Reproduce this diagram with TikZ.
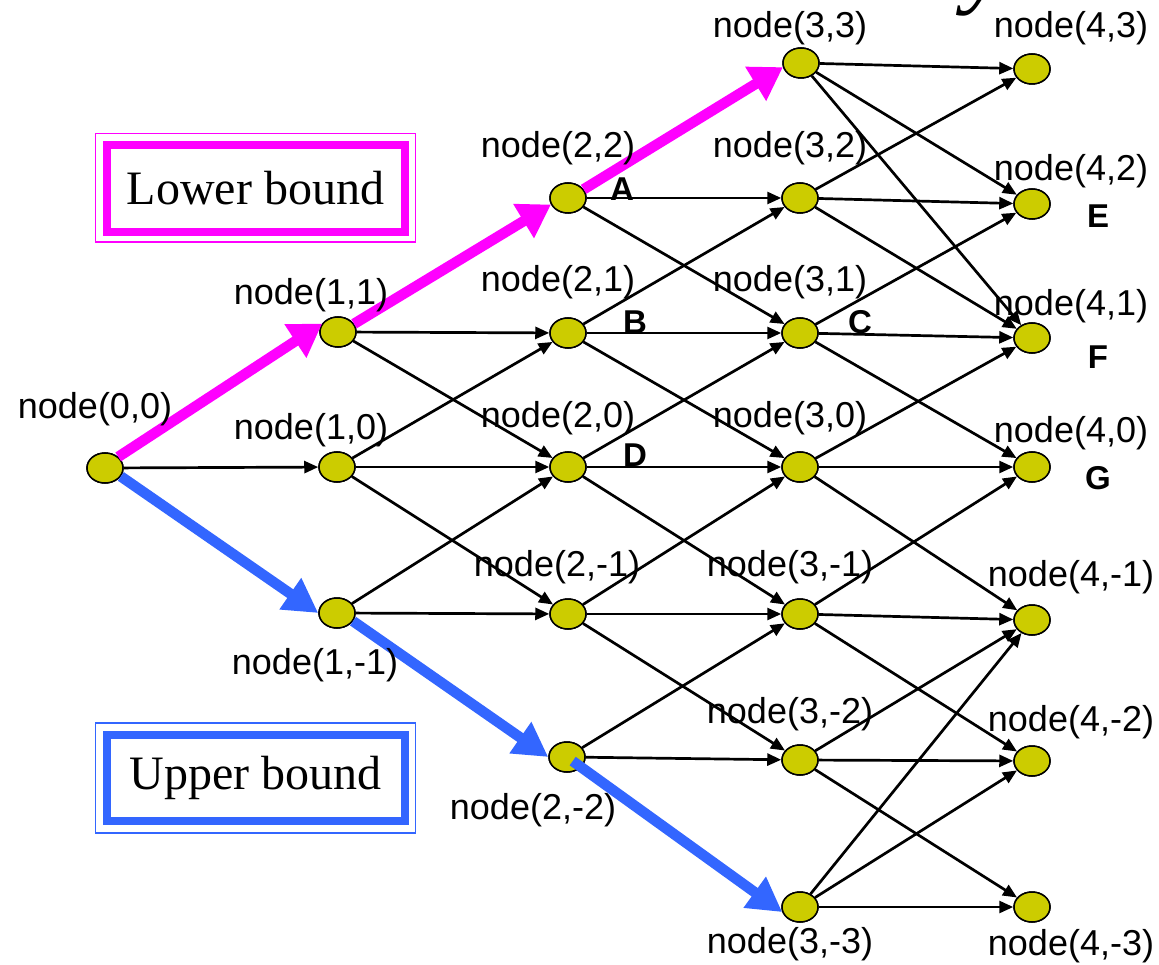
\documentclass[tikz,border=0pt]{standalone}
\usepackage{fontspec}
\setmainfont{Liberation Serif}
\newfontfamily\arialfont{Liberation Sans}
\usetikzlibrary{arrows.meta,shapes.geometric,calc}
\definecolor{nodeyellow}{RGB}{204,204,0}
\definecolor{pathmag}{RGB}{255,0,255}
\definecolor{pathblue}{RGB}{51,102,255}

\begin{document}
\begin{tikzpicture}[x=1pt,y=-1pt,
  state/.style={ellipse, draw=black, line width=1.5pt, fill=nodeyellow,
    minimum width=36pt, minimum height=30pt, inner sep=0pt},
  statefill/.style={draw=black, line width=1.5pt, fill=nodeyellow},
  edge/.style={line width=2.7pt, -{Triangle[length=14pt,width=12pt]}},
  tag/.style={font=\arialfont\fontsize{36}{40}\selectfont, inner sep=0pt},
  letter/.style={font=\arialfont\bfseries\fontsize{33}{36}\selectfont, inner sep=0pt},
  magpath/.style={pathmag, line width=10.5pt, -{Triangle[length=32pt,width=38pt]}},
  bluepath/.style={pathblue, line width=10.5pt, -{Triangle[length=34pt,width=36pt]}},
  boundbox/.style={line width=8pt, minimum width=297.8pt, minimum height=86.6pt,
    inner sep=0pt, font=\fontsize{48}{54}\selectfont}
]
\useasboundingbox (0,0) rectangle (1159,965);

% tail of a heading letter running off the top edge
\node[font=\itshape\fontsize{96}{100}\selectfont, anchor=base, inner sep=0pt] (ytail) at (986,-4) {y};

% lattice nodes
\node[state] (n00)  at (105,468) {};
\node[state] (n11)  at (338,332) {};
\node[state] (n10)  at (337,467) {};
\node[state] (n1m1) at (337,613) {};
\node[state] (n22)  at (568,198) {};
\node[state] (n21)  at (568,333) {};
\node[state] (n20)  at (568,467) {};
\node[state] (n2m1) at (568,614) {};
\node[state] (n2m2) at (567,757) {};
\node[state] (n33)  at (801,63) {};
\node[state] (n32)  at (800,198) {};
\node[state] (n31)  at (800,333) {};
\node[state] (n30)  at (800,467) {};
\node[state] (n3m1) at (800,614) {};
\node[state] (n3m2) at (800,760) {};
\node[state] (n3m3) at (800,907) {};
\node[state] (n43)  at (1032,69) {};
\node[state] (n42)  at (1032,204) {};
\node[state] (n41)  at (1032,338) {};
\node[state] (n40)  at (1032,467) {};
\node[state] (n4m1) at (1032,620) {};
\node[state] (n4m2) at (1032,761) {};
\node[state] (n4m3) at (1032,907) {};

% transitions
\foreach \a/\b in {n00/n10,
  n11/n21, n11/n20, n10/n21, n10/n20, n10/n2m1, n1m1/n20, n1m1/n2m1,
  n22/n32, n22/n31, n21/n32, n21/n31, n21/n30, n20/n31, n20/n30, n20/n3m1,
  n2m1/n30, n2m1/n3m1, n2m1/n3m2, n2m2/n3m1, n2m2/n3m2,
  n33/n43, n33/n42, n33/n41, n32/n43, n32/n42, n32/n41,
  n31/n42, n31/n41, n31/n40, n30/n41, n30/n40, n30/n4m1,
  n3m1/n40, n3m1/n4m1, n3m1/n4m2, n3m2/n4m1, n3m2/n4m2, n3m2/n4m3,
  n3m3/n4m1, n3m3/n4m2, n3m3/n4m3}
  \draw[edge] (\a) -- (\b);

% repaint the node bodies over the line ends
\foreach \n in {n00,n11,n10,n1m1,n22,n21,n20,n2m1,n2m2,n33,n32,n31,n30,n3m1,n3m2,n3m3,n43,n42,n41,n40,n4m1,n4m2,n4m3}
  \path[statefill] (\n.center) ellipse[x radius=18pt, y radius=15pt];

% lower bound path
\draw[magpath] (n00.40) -- (n11.152);
\draw[magpath] (n11.27) -- (n22.201);
\draw[magpath] (n22.29) -- (n33.193);
% upper bound path
\draw[bluepath] (n00.-28) -- (n1m1.180);
\draw[bluepath] (n1m1.-27) -- (n2m2.180);
\draw[bluepath, shorten <=7pt] (n2m2.center) -- (n3m3.196);

% node names
\node[tag] (l00)  at (95,409)   {node(0,0)};
\node[tag] (l11)  at (311,295)  {node(1,1)};
\node[tag] (l10)  at (311,430)  {node(1,0)};
\node[tag] (l1m1) at (315,665)  {node(1,-1)};
\node[tag] (l22)  at (558,148)  {node(2,2)};
\node[tag] (l21)  at (558,282)  {node(2,1)};
\node[tag] (l20)  at (558,418)  {node(2,0)};
\node[tag] (l2m1) at (557,567)  {node(2,-1)};
\node[tag] (l2m2) at (533,810)  {node(2,-2)};
\node[tag] (l33)  at (790,28)   {node(3,3)};
\node[tag] (l32)  at (790,148)  {node(3,2)};
\node[tag] (l31)  at (790,282)  {node(3,1)};
\node[tag] (l30)  at (790,418)  {node(3,0)};
\node[tag] (l3m1) at (790,567)  {node(3,-1)};
\node[tag] (l3m2) at (790,714)  {node(3,-2)};
\node[tag] (l3m3) at (790,944)  {node(3,-3)};
\node[tag] (l43)  at (1071,28)  {node(4,3)};
\node[tag] (l42)  at (1071,171) {node(4,2)};
\node[tag] (l41)  at (1071,306) {node(4,1)};
\node[tag] (l40)  at (1071,433) {node(4,0)};
\node[tag] (l4m1) at (1071,577) {node(4,-1)};
\node[tag] (l4m2) at (1071,722) {node(4,-2)};
\node[tag] (l4m3) at (1071,946) {node(4,-3)};

% marked points
\node[letter] (pA) at (622,189)  {A};
\node[letter] (pB) at (635,322)  {B};
\node[letter] (pC) at (860,322)  {C};
\node[letter] (pD) at (635,455)  {D};
\node[letter] (pE) at (1098,216) {E};
\node[letter] (pF) at (1098,357) {F};
\node[letter] (pG) at (1098,478) {G};

% legend boxes
\node[boundbox, draw=pathmag] (lower) at (255.6,188.3) {Lower bound};
\draw[pathmag, line width=1.6pt] ([shift={(-7.3pt,7.3pt)}]lower.north west) rectangle ([shift={(7pt,-6.7pt)}]lower.south east);
\node[boundbox, draw=pathblue] (upper) at (255.6,778.1) {Upper bound};
\draw[pathblue, line width=1.6pt] ([shift={(-7.3pt,7.8pt)}]upper.north west) rectangle ([shift={(7pt,-7.3pt)}]upper.south east);
\end{tikzpicture}
\end{document}
